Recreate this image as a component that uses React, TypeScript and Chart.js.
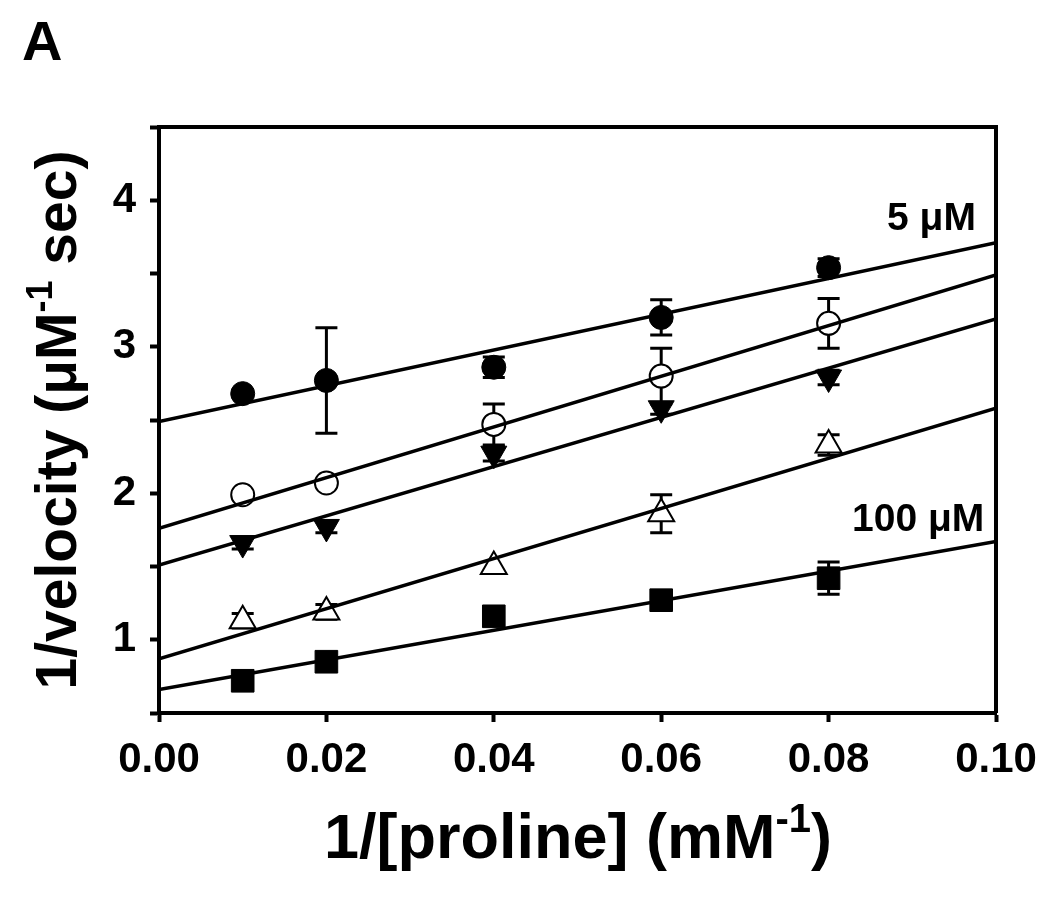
import React, { useEffect, useRef } from "react";
import { Chart, registerables } from "chart.js";

Chart.register(...registerables);

// ---- data ----
const xValues = [0.01, 0.02, 0.04, 0.06, 0.08];

const y5uM = [2.68, 2.77, 2.86, 3.2, 3.54];
const err5uM = [0, 0.36, 0.07, 0.12, 0.06];

const yOpenCircle = [1.99, 2.07, 2.47, 2.8, 3.16];
const errOpenCircle = [0, 0, 0.14, 0.19, 0.17];

const yDownTri = [1.66, 1.77, 2.27, 2.58, 2.79];
const errDownTri = [0.04, 0.04, 0.05, 0.04, 0.05];

const yOpenTri = [1.13, 1.19, 1.5, 1.86, 2.33];
const errOpenTri = [0.05, 0.05, 0, 0.13, 0.07];

const y100uM = [0.72, 0.85, 1.16, 1.27, 1.42];
const err100uM = [0, 0, 0, 0, 0.11];

// regression lines: y at x = fitX[0] and fitX[1]
const fitX = [0, 0.1];
const fit5uM = [2.49, 3.71];
const fitOpenCircle = [1.76, 3.49];
const fitDownTri = [1.51, 3.19];
const fitOpenTri = [0.87, 2.58];
const fit100uM = [0.66, 1.67];

const xTicks = [0, 0.02, 0.04, 0.06, 0.08, 0.1];
const yTicks = [0.5, 1, 1.5, 2, 2.5, 3, 3.5, 4, 4.5];
const yTickLabels = ["", "1", "", "2", "", "3", "", "4", ""];

const panelLabel = "A";
const xTitleMain = "1/[proline] (mM";
const xTitleSup = "-1";
const xTitleEnd = ")";
const yTitleMain = "1/velocity (\u03bcM";
const yTitleSup = "-1";
const yTitleEnd = " sec)";
const annotations = [
  { text: "5 \u03bcM", x: 0.0976, y: 3.89 },
  { text: "100 \u03bcM", x: 0.0986, y: 1.84 },
];

const FONT = '"Liberation Sans", Arial, Helvetica, sans-serif';

type Series = {
  y: number[];
  err: number[];
  fit: number[];
  style: string;
  rotation: number;
  radius: number;
  fill: string;
  borderWidth: number;
};

const series: Series[] = [
  { y: y5uM, err: err5uM, fit: fit5uM, style: "circle", rotation: 0, radius: 12, fill: "#000", borderWidth: 1 },
  { y: yOpenCircle, err: errOpenCircle, fit: fitOpenCircle, style: "circle", rotation: 0, radius: 11.5, fill: "#fff", borderWidth: 2 },
  { y: yDownTri, err: errDownTri, fit: fitDownTri, style: "triangle", rotation: 180, radius: 15, fill: "#000", borderWidth: 1 },
  { y: yOpenTri, err: errOpenTri, fit: fitOpenTri, style: "triangle", rotation: 0, radius: 15, fill: "#fff", borderWidth: 2 },
  { y: y100uM, err: err100uM, fit: fit100uM, style: "rect", rotation: 0, radius: 16, fill: "#000", borderWidth: 1 },
];

const decorPlugin = {
  id: "decor",
  beforeDatasetsDraw(chart: any) {
    const ctx = chart.ctx;
    const xs = chart.scales.x;
    const ys = chart.scales.y;
    ctx.save();
    ctx.strokeStyle = "#000";
    ctx.lineWidth = 3;
    const cap = 11;
    series.forEach((s) => {
      s.y.forEach((v, i) => {
        const e = s.err[i];
        if (!e) return;
        const px = xs.getPixelForValue(xValues[i]);
        const top = ys.getPixelForValue(v + e);
        const bot = ys.getPixelForValue(v - e);
        ctx.beginPath();
        ctx.moveTo(px, top);
        ctx.lineTo(px, bot);
        ctx.moveTo(px - cap, top);
        ctx.lineTo(px + cap, top);
        ctx.moveTo(px - cap, bot);
        ctx.lineTo(px + cap, bot);
        ctx.stroke();
      });
    });
    ctx.restore();
  },
  afterDraw(chart: any) {
    const ctx = chart.ctx;
    const a = chart.chartArea;
    const xs = chart.scales.x;
    const ys = chart.scales.y;
    ctx.save();
    // frame top & right
    ctx.strokeStyle = "#000";
    ctx.lineWidth = 4;
    ctx.beginPath();
    ctx.moveTo(a.left, a.top);
    ctx.lineTo(a.right, a.top);
    ctx.lineTo(a.right, a.bottom);
    ctx.stroke();

    ctx.fillStyle = "#000";
    ctx.textBaseline = "alphabetic";

    // panel label
    ctx.font = `bold 56px ${FONT}`;
    ctx.textAlign = "left";
    ctx.fillText(panelLabel, 22, 60);

    // annotations
    ctx.font = `bold 39px ${FONT}`;
    ctx.textAlign = "right";
    annotations.forEach((t) => {
      ctx.fillText(t.text, xs.getPixelForValue(t.x), ys.getPixelForValue(t.y) + 14);
    });

    // x title
    ctx.textAlign = "left";
    const bigX = `bold 63px ${FONT}`;
    const smallX = `bold 40px ${FONT}`;
    ctx.font = bigX;
    const w1 = ctx.measureText(xTitleMain).width;
    const w3 = ctx.measureText(xTitleEnd).width;
    ctx.font = smallX;
    const w2 = ctx.measureText(xTitleSup).width;
    const x0 = 578 - (w1 + w2 + w3) / 2;
    const by = 858;
    ctx.font = bigX;
    ctx.fillText(xTitleMain, x0, by);
    ctx.font = smallX;
    ctx.fillText(xTitleSup, x0 + w1, by - 26);
    ctx.font = bigX;
    ctx.fillText(xTitleEnd, x0 + w1 + w2, by);

    // y title
    const big = `bold 57px ${FONT}`;
    const small = `bold 36px ${FONT}`;
    ctx.translate(76, 420);
    ctx.rotate(-Math.PI / 2);
    ctx.font = big;
    const v1 = ctx.measureText(yTitleMain).width;
    const v3 = ctx.measureText(yTitleEnd).width;
    ctx.font = small;
    const v2 = ctx.measureText(yTitleSup).width;
    const s0 = -(v1 + v2 + v3) / 2;
    ctx.font = big;
    ctx.fillText(yTitleMain, s0, 0);
    ctx.font = small;
    ctx.fillText(yTitleSup, s0 + v1, -24);
    ctx.font = big;
    ctx.fillText(yTitleEnd, s0 + v1 + v2, 0);
    ctx.restore();
  },
};

export default function App() {
  const ref = useRef<HTMLCanvasElement | null>(null);

  useEffect(() => {
    if (!ref.current) return;
    const datasets: any[] = [];
    series.forEach((s) => {
      datasets.push({
        type: "line",
        data: fitX.map((x, i) => ({ x, y: s.fit[i] })),
        borderColor: "#000",
        borderWidth: 3.5,
        pointRadius: 0,
        fill: false,
        order: 0,
      });
    });
    series.forEach((s) => {
      datasets.push({
        type: "scatter",
        data: xValues.map((x, i) => ({ x, y: s.y[i] })),
        pointStyle: s.style,
        pointRotation: s.rotation,
        pointRadius: s.radius,
        pointBackgroundColor: s.fill,
        pointBorderColor: "#000",
        pointBorderWidth: s.borderWidth,
        showLine: false,
        order: 1,
      });
    });

    const tickFont = { family: FONT, size: 42, weight: "bold" as const };

    const chart = new Chart(ref.current, {
      type: "scatter",
      data: { datasets },
      plugins: [decorPlugin],
      options: {
        animation: false,
        responsive: false,
        maintainAspectRatio: false,
        events: [],
        layout: { padding: { top: 127, right: 54, left: 0, bottom: 0 } },
        plugins: { legend: { display: false }, tooltip: { enabled: false }, title: { display: false } },
        scales: {
          x: {
            type: "linear",
            min: 0,
            max: 0.1,
            afterBuildTicks: (scale: any) => {
              scale.ticks = xTicks.map((v) => ({ value: v }));
            },
            afterFit: (scale: any) => {
              scale.height = 185;
            },
            ticks: {
              autoSkip: false,
              maxRotation: 0,
              color: "#000",
              font: tickFont,
              padding: 13,
              callback: (v: any) => Number(v).toFixed(2),
            },
            grid: {
              display: true,
              drawOnChartArea: false,
              drawTicks: true,
              tickLength: 9,
              tickWidth: 4,
              color: "#000",
            },
            border: { display: true, color: "#000", width: 4 },
          },
          y: {
            type: "linear",
            min: 0.5,
            max: 4.5,
            afterBuildTicks: (scale: any) => {
              scale.ticks = yTicks.map((v) => ({ value: v }));
            },
            afterFit: (scale: any) => {
              scale.width = 159;
            },
            ticks: {
              autoSkip: false,
              color: "#000",
              font: tickFont,
              padding: 14,
              callback: (v: any) => {
                const i = yTicks.indexOf(Number(v));
                return i >= 0 ? yTickLabels[i] : "";
              },
            },
            grid: {
              display: true,
              drawOnChartArea: false,
              drawTicks: true,
              tickLength: 9,
              tickWidth: 4,
              color: "#000",
            },
            border: { display: true, color: "#000", width: 4 },
          },
        },
      },
    });
    return () => chart.destroy();
  }, []);

  return (
    <div style={{ position: "absolute", left: 0, top: 0, width: 1050, height: 898, background: "#fff" }}>
      <canvas ref={ref} width={1050} height={898} style={{ width: 1050, height: 898, display: "block" }} />
    </div>
  );
}
